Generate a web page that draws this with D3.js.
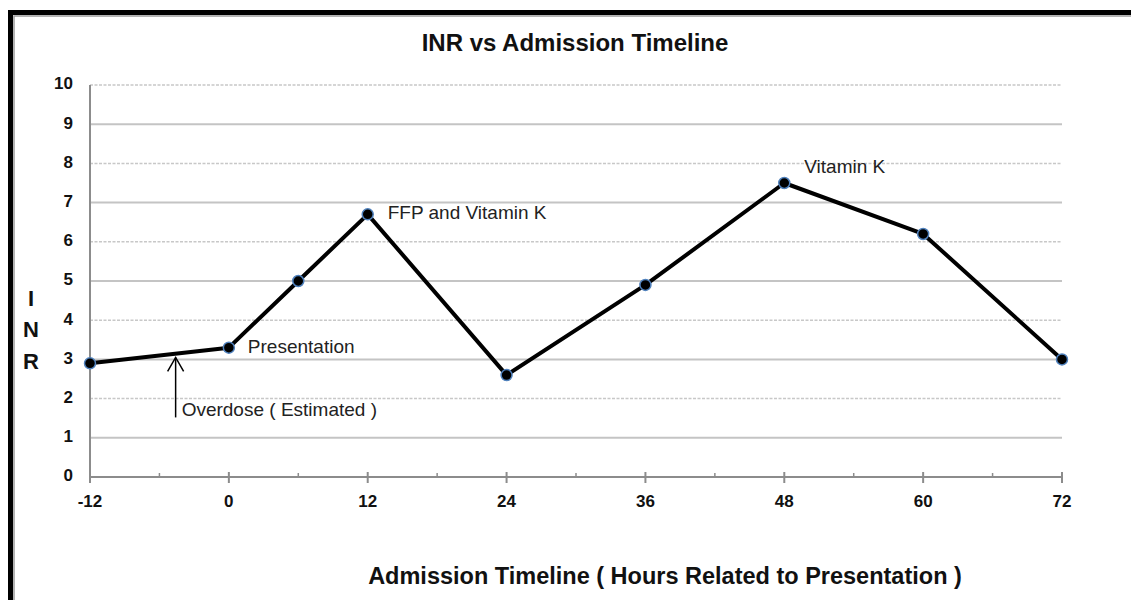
<!DOCTYPE html>
<html>
<head>
<meta charset="utf-8">
<script src="https://cdn.jsdelivr.net/npm/d3@7/dist/d3.min.js"></script>
<style>
  html, body { margin: 0; padding: 0; background: #fff; }
  svg { display: block; font-family: "Liberation Sans", Arial, sans-serif; }
</style>
</head>
<body>
<svg id="chart" width="1131" height="600"></svg>
<script>
// ---- data ----
const hours = [-12, 0, 6, 12, 24, 36, 48, 60, 72];
const inr = [2.9, 3.3, 5.0, 6.7, 2.6, 4.9, 7.5, 6.2, 3.0];
const xTicks = [-12, 0, 12, 24, 36, 48, 60, 72];
const xMinorTicks = [-6, 6, 18, 30, 42, 54, 66];
const yTicks = [0, 1, 2, 3, 4, 5, 6, 7, 8, 9, 10];
const annotations = [
  { hour: 0, value: 3.3, text: "Presentation", dx: 19, dy: 0 },
  { hour: 12, value: 6.7, text: "FFP and Vitamin K", dx: 20, dy: 0 },
  { hour: 48, value: 7.5, text: "Vitamin K", dx: 20, dy: -15 }
];
const overdose = { hour: -4.6, top: 3.05, bottom: 1.52, text: "Overdose ( Estimated )" };
const title = "INR vs Admission Timeline";
const xTitle = "Admission Timeline ( Hours Related to Presentation )";
const yTitle = ["I", "N", "R"];

const svg = d3.select("#chart");

// frame border
svg.append("path")
  .attr("d", "M10.5,600 L10.5,12.5 L1131,12.5")
  .attr("fill", "none").attr("stroke", "#000").attr("stroke-width", 5);
svg.append("path")
  .attr("d", "M14,600 L14,16 L1131,16")
  .attr("fill", "none").attr("stroke", "#9a9a9a").attr("stroke-width", 1.5);

const x = d3.scaleLinear().domain([-12, 72]).range([90, 1062]);
const y = d3.scaleLinear().domain([0, 10]).range([477, 85]);

// gridlines
const grid = svg.append("g");
grid.selectAll("line").data(yTicks.filter(d => d > 0)).join("line")
  .attr("x1", x(-12)).attr("x2", x(72))
  .attr("y1", d => y(d)).attr("y2", d => y(d))
  .attr("stroke", d => d % 2 === 1 ? "#c4c4c4" : "#c8c8c8")
  .attr("stroke-width", d => d % 2 === 1 ? 2 : 1.5)
  .attr("stroke-dasharray", d => d % 2 === 1 ? null : "3,1.5");

// x axis
const xAxis = svg.append("g").attr("transform", `translate(0,${y(0)})`);
xAxis.append("line").attr("x1", x(-12)).attr("x2", x(72))
  .attr("stroke", "#8c8c8c").attr("stroke-width", 2);
xAxis.selectAll(".maj").data(xTicks).join("line").attr("class", "maj")
  .attr("x1", d => x(d)).attr("x2", d => x(d))
  .attr("y1", -5).attr("y2", 6)
  .attr("stroke", "#8c8c8c").attr("stroke-width", 2);
xAxis.selectAll(".min").data(xMinorTicks).join("line").attr("class", "min")
  .attr("x1", d => x(d)).attr("x2", d => x(d))
  .attr("y1", -4).attr("y2", 0)
  .attr("stroke", "#8c8c8c").attr("stroke-width", 1.5);
xAxis.selectAll("text").data(xTicks).join("text")
  .attr("x", d => x(d)).attr("y", 26)
  .attr("text-anchor", "middle").attr("dominant-baseline", "middle")
  .attr("font-size", 17).attr("font-weight", "bold").attr("fill", "#111")
  .text(d => d);

// y axis
const yAxis = svg.append("g");
yAxis.append("line").attr("x1", x(-12)).attr("x2", x(-12))
  .attr("y1", y(10)).attr("y2", y(0))
  .attr("stroke", "#8c8c8c").attr("stroke-width", 2);
yAxis.selectAll("text").data(yTicks).join("text")
  .attr("x", 73).attr("y", d => y(d))
  .attr("text-anchor", "end").attr("dominant-baseline", "middle")
  .attr("font-size", 17).attr("font-weight", "bold").attr("fill", "#111")
  .text(d => d);

// titles
svg.append("text").attr("x", 575).attr("y", 45)
  .attr("text-anchor", "middle").attr("dominant-baseline", "middle")
  .attr("font-size", 24).attr("font-weight", "bold").attr("fill", "#111")
  .text(title);
svg.append("text").attr("x", 665).attr("y", 578)
  .attr("text-anchor", "middle").attr("dominant-baseline", "middle")
  .attr("font-size", 23.5).attr("font-weight", "bold").attr("fill", "#111")
  .text(xTitle);
svg.append("g").selectAll("text").data(yTitle).join("text")
  .attr("x", 31).attr("y", (d, i) => 300 + i * 31.5)
  .attr("text-anchor", "middle").attr("dominant-baseline", "middle")
  .attr("font-size", 22).attr("font-weight", "bold").attr("fill", "#111")
  .text(d => d);

// line
const pts = hours.map((h, i) => [h, inr[i]]);
svg.append("path").datum(pts)
  .attr("d", d3.line().x(d => x(d[0])).y(d => y(d[1])))
  .attr("fill", "none").attr("stroke", "#000").attr("stroke-width", 4)
  .attr("stroke-linejoin", "round");
svg.append("g").selectAll("circle").data(pts).join("circle")
  .attr("cx", d => x(d[0])).attr("cy", d => y(d[1])).attr("r", 5.5)
  .attr("fill", "#000").attr("stroke", "#4f81bd").attr("stroke-width", 1.5);

// annotations
svg.append("g").selectAll("text").data(annotations).join("text")
  .attr("x", d => x(d.hour) + d.dx).attr("y", d => y(d.value) + d.dy)
  .attr("dominant-baseline", "middle")
  .attr("font-size", 19).attr("fill", "#222")
  .text(d => d.text);

// overdose arrow
const ax = x(overdose.hour), at = y(overdose.top), ab = y(overdose.bottom);
svg.append("line").attr("x1", ax).attr("x2", ax).attr("y1", ab).attr("y2", at)
  .attr("stroke", "#000").attr("stroke-width", 1.5);
svg.append("path")
  .attr("d", `M${ax - 8},${at + 14} L${ax},${at} L${ax + 8},${at + 14}`)
  .attr("fill", "none").attr("stroke", "#000").attr("stroke-width", 1.5);
svg.append("text").attr("x", ax + 6).attr("y", ab - 6)
  .attr("dominant-baseline", "middle")
  .attr("font-size", 19).attr("fill", "#222")
  .text(overdose.text);
</script>
</body>
</html>
